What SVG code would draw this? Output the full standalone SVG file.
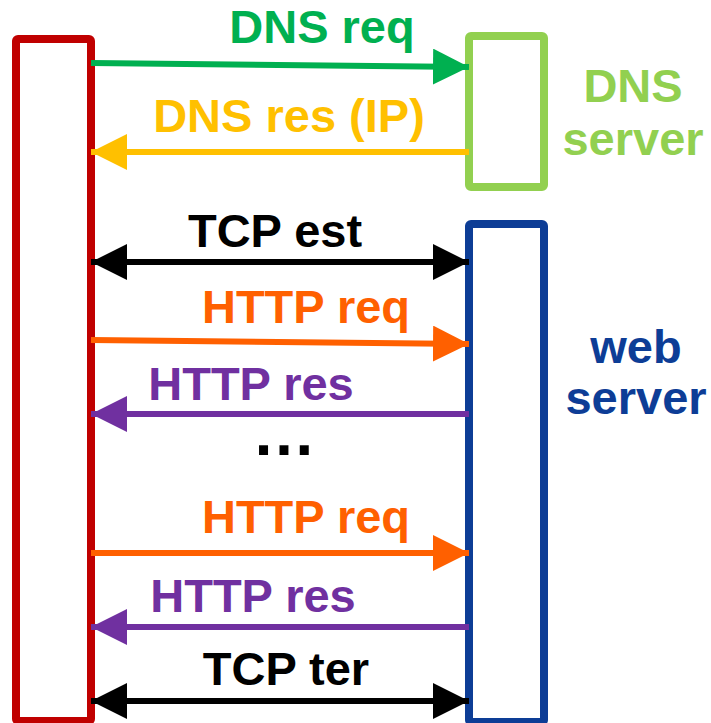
<svg xmlns="http://www.w3.org/2000/svg" width="711" height="723" viewBox="0 0 711 723">
<style>
text{font-family:"Liberation Sans",Arial,sans-serif;font-weight:bold;font-size:47px;text-anchor:middle}
.box{fill:#fff;stroke-width:8}
.ln{stroke-width:6;fill:none}
</style>
<defs>
<marker id="ag" markerUnits="userSpaceOnUse" markerWidth="36" markerHeight="36" refX="36" refY="18" orient="auto-start-reverse"><path d="M0,0L36,18L0,36z" fill="#00B050"/></marker>
<marker id="ay" markerUnits="userSpaceOnUse" markerWidth="36" markerHeight="36" refX="36" refY="18" orient="auto-start-reverse"><path d="M0,0L36,18L0,36z" fill="#FFC000"/></marker>
<marker id="ak" markerUnits="userSpaceOnUse" markerWidth="36" markerHeight="36" refX="36" refY="18" orient="auto-start-reverse"><path d="M0,0L36,18L0,36z" fill="#000"/></marker>
<marker id="ao" markerUnits="userSpaceOnUse" markerWidth="36" markerHeight="36" refX="36" refY="18" orient="auto-start-reverse"><path d="M0,0L36,18L0,36z" fill="#FF6000"/></marker>
<marker id="ap" markerUnits="userSpaceOnUse" markerWidth="36" markerHeight="36" refX="36" refY="18" orient="auto-start-reverse"><path d="M0,0L36,18L0,36z" fill="#7030A0"/></marker>
</defs>
<g id="client"><rect class="box" x="16" y="39" width="75" height="682" rx="2" stroke="#C00000"/></g>
<g id="dns-server"><rect class="box" x="469" y="36" width="75" height="151" rx="2" stroke="#92D050"/>
<text x="633" y="102" fill="#92D050">DNS</text><text x="633" y="155" fill="#92D050">server</text></g>
<g id="web-server"><rect class="box" x="469" y="224" width="75" height="498" rx="2" stroke="#0D3D96"/>
<text x="636" y="363" fill="#0D3D96">web</text><text x="636" y="414" fill="#0D3D96">server</text></g>
<g id="connectors">
<line class="ln" x1="91" y1="63" x2="469" y2="67" stroke="#00B050" marker-end="url(#ag)"/>
<line class="ln" x1="469" y1="152" x2="91" y2="152" stroke="#FFC000" marker-end="url(#ay)"/>
<line class="ln" x1="91" y1="262" x2="469" y2="262" stroke="#000" marker-start="url(#ak)" marker-end="url(#ak)"/>
<line class="ln" x1="91" y1="340" x2="469" y2="344" stroke="#FF6000" marker-end="url(#ao)"/>
<line class="ln" x1="469" y1="414" x2="91" y2="414" stroke="#7030A0" marker-end="url(#ap)"/>
<line class="ln" x1="91" y1="553" x2="469" y2="553" stroke="#FF6000" marker-end="url(#ao)"/>
<line class="ln" x1="469" y1="627" x2="91" y2="627" stroke="#7030A0" marker-end="url(#ap)"/>
<line class="ln" x1="91" y1="701" x2="469" y2="701" stroke="#000" marker-start="url(#ak)" marker-end="url(#ak)"/>
</g>
<g id="labels">
<text x="322" y="43" fill="#00B050">DNS req</text>
<text x="289" y="132" fill="#FFC000">DNS res (IP)</text>
<text x="275" y="247" fill="#000">TCP est</text>
<text x="306" y="323" fill="#FF6000">HTTP req</text>
<text x="251" y="400" fill="#7030A0">HTTP res</text>
<text x="284" y="455" fill="#000" style="font-size:64px">…</text>
<text x="306" y="533" fill="#FF6000">HTTP req</text>
<text x="253" y="612" fill="#7030A0">HTTP res</text>
<text x="286" y="685" fill="#000">TCP ter</text>
</g>
</svg>
